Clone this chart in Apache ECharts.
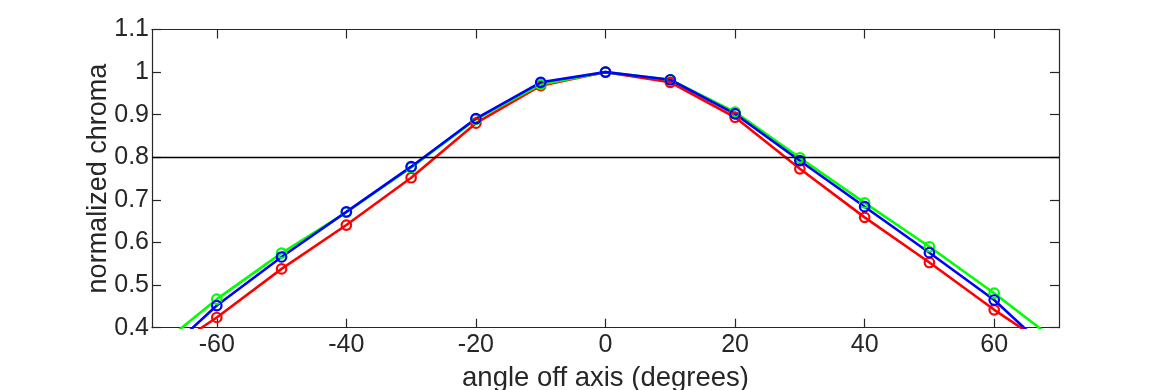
<!DOCTYPE html>
<html>
<head>
<meta charset="utf-8">
<script src="https://cdn.jsdelivr.net/npm/echarts@6/dist/echarts.min.js"></script>
<style>
html,body{margin:0;padding:0;background:#fff;}
#chart{width:1170px;height:390px;}
</style>
</head>
<body>
<div id="chart"></div>
<script>
var angles = [-70,-60,-50,-40,-30,-20,-10,0,10,20,30,40,50,60,70];
var redValues   = [0.322,0.424,0.538,0.641,0.752,0.880,0.968,1.000,0.976,0.894,0.773,0.659,0.553,0.442,0.340];
var greenValues = [0.343,0.467,0.575,0.671,0.776,0.889,0.971,1.000,0.982,0.906,0.799,0.693,0.590,0.481,0.364];
var blueValues  = [0.312,0.452,0.566,0.672,0.778,0.891,0.976,1.000,0.982,0.902,0.792,0.684,0.576,0.465,0.324];
var xTickValues = [-60,-40,-20,0,20,40,60];
var thresholdValue = 0.8;

function pairs(vals){ return angles.map(function(a,i){ return [a, vals[i]]; }); }

var axisColor = '#262626';
var font = '"Liberation Sans", Arial, Helvetica, sans-serif';

function mkSeries(name, color, vals, extra){
  var s = {
    name: name,
    type: 'line',
    data: pairs(vals),
    clip: true,
    symbol: 'circle',
    symbolSize: 9.5,
    showAllSymbol: true,
    lineStyle: {color: color, width: 2.6},
    itemStyle: {color: 'rgba(255,255,255,0)', borderColor: color, borderWidth: 2.2},
    emphasis: {disabled: true},
    animation: false,
    z: 3
  };
  if (extra) for (var k in extra) s[k] = extra[k];
  return s;
}

var chart = echarts.init(document.getElementById('chart'), null, {renderer:'canvas'});
chart.setOption({
  backgroundColor: '#fff',
  animation: false,
  grid: {left: 152, right: 111, top: 29.5, bottom: 62.3, containLabel: false, outerBoundsMode: 'none'},
  xAxis: [{
    type: 'value', min: -70, max: 70,
    name: 'angle off axis (degrees)', nameLocation: 'middle', nameGap: 37, nameMoveOverlap: false,
    nameTextStyle: {fontFamily: font, fontSize: 27.5, color: axisColor},
    axisLine: {show: true, lineStyle: {color: axisColor, width: 1.2}},
    axisTick: {show: true, inside: true, length: 9, customValues: xTickValues, lineStyle: {color: axisColor, width: 1.2}},
    axisLabel: {customValues: xTickValues, fontFamily: font, fontSize: 25, color: axisColor, margin: 5},
    splitLine: {show: false}
  },{
    type: 'value', min: -70, max: 70, position: 'top',
    axisLine: {show: true, onZero: false, lineStyle: {color: axisColor, width: 1.2}},
    axisTick: {show: true, inside: true, length: 9, customValues: xTickValues, lineStyle: {color: axisColor, width: 1.2}},
    axisLabel: {show: false},
    splitLine: {show: false}
  }],
  yAxis: [{
    type: 'value', min: 0.4, max: 1.1, interval: 0.1,
    name: 'normalized chroma', nameLocation: 'middle', nameGap: 40, nameMoveOverlap: false,
    nameTextStyle: {fontFamily: font, fontSize: 27, color: axisColor},
    axisLine: {show: true, onZero: false, lineStyle: {color: axisColor, width: 1.2}},
    axisTick: {show: true, inside: true, length: 9, lineStyle: {color: axisColor, width: 1.2}},
    axisLabel: {fontFamily: font, fontSize: 25, color: axisColor, margin: 3,
      formatter: function(v){ return String(Math.round(v*10)/10); }},
    splitLine: {show: false}
  },{
    type: 'value', min: 0.4, max: 1.1, interval: 0.1, position: 'right',
    axisLine: {show: true, onZero: false, lineStyle: {color: axisColor, width: 1.2}},
    axisTick: {show: true, inside: true, length: 9, lineStyle: {color: axisColor, width: 1.2}},
    axisLabel: {show: false},
    splitLine: {show: false}
  }],
  series: [
    mkSeries('red', '#ff0000', redValues, {
      markLine: {
        silent: true, symbol: ['none','none'], animation: false,
        label: {show: false},
        lineStyle: {color: '#000', width: 1.3, type: 'solid'},
        data: [{yAxis: thresholdValue}]
      }
    }),
    mkSeries('green', '#00ff00', greenValues),
    mkSeries('blue', '#0000ff', blueValues)
  ]
});
</script>
</body>
</html>
